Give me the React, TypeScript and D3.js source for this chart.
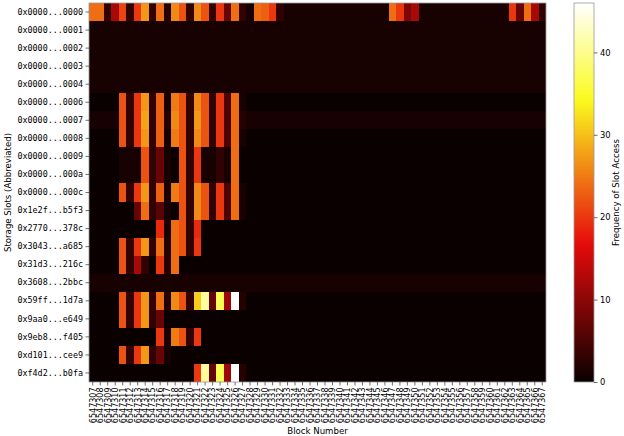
import React, { useRef, useEffect } from 'react';
import * as d3 from 'd3';

const slots = [
  "0x0000...0000", "0x0000...0001", "0x0000...0002", "0x0000...0003", "0x0000...0004",
  "0x0000...0006", "0x0000...0007", "0x0000...0008", "0x0000...0009", "0x0000...000a",
  "0x0000...000c", "0x1e2f...b5f3", "0x2770...378c", "0x3043...a685", "0x31d3...216c",
  "0x3608...2bbc", "0x59ff...1d7a", "0x9aa0...e649", "0x9eb8...f405", "0xd101...cee9",
  "0xf4d2...b0fa"
];

const blocks = [
  "6547307", "6547308", "6547309", "6547310", "6547311", "6547312", "6547313", "6547314",
  "6547315", "6547316", "6547317", "6547318", "6547319", "6547320", "6547321", "6547322",
  "6547323", "6547324", "6547325", "6547326", "6547327", "6547328", "6547329", "6547330",
  "6547331", "6547332", "6547333", "6547334", "6547335", "6547336", "6547337", "6547338",
  "6547339", "6547340", "6547341", "6547342", "6547343", "6547344", "6547345", "6547346",
  "6547347", "6547348", "6547349", "6547350", "6547351", "6547352", "6547353", "6547354",
  "6547355", "6547356", "6547357", "6547358", "6547359", "6547360", "6547361", "6547362",
  "6547363", "6547364", "6547365", "6547366", "6547367"
];

// access counts for the first 26 blocks (6547307..6547332), one row per slot
const earlyCounts = [
  [24, 24, 3, 12, 21, 3, 20, 27, 3, 24, 2, 26, 22, 3, 26, 22, 3, 20, 7, 24, 3, 1, 24, 23, 20, 3],
  [1, 1, 1, 1, 1, 1, 1, 1, 1, 1, 1, 1, 1, 1, 1, 1, 1, 1, 1, 1, 1, 1, 1, 1, 1, 1],
  [1, 1, 1, 1, 1, 1, 1, 1, 1, 1, 1, 1, 1, 1, 1, 1, 1, 1, 1, 1, 1, 1, 1, 1, 1, 1],
  [1, 1, 1, 1, 1, 1, 1, 1, 1, 1, 1, 1, 1, 1, 1, 1, 1, 1, 1, 1, 1, 1, 1, 1, 1, 1],
  [1, 1, 1, 1, 1, 1, 1, 1, 1, 1, 1, 1, 1, 1, 1, 1, 1, 1, 1, 1, 1, 1, 1, 1, 1, 1],
  [0, 0, 0, 0, 22, 3, 20, 27, 3, 23, 1, 25, 22, 3, 26, 22, 3, 20, 5, 24, 1, 0, 0, 0, 0, 0],
  [1, 1, 1, 1, 22, 3, 20, 28, 3, 23, 2, 26, 22, 3, 27, 22, 3, 20, 5, 24, 2, 1, 1, 1, 1, 1],
  [0, 0, 0, 0, 22, 3, 20, 27, 3, 23, 1, 25, 22, 3, 26, 22, 3, 20, 5, 24, 1, 0, 0, 0, 0, 0],
  [0, 0, 0, 0, 1, 1, 1, 22, 3, 7, 1, 0, 22, 3, 20, 1, 1, 3, 1, 24, 0, 0, 0, 0, 0, 0],
  [0, 0, 0, 0, 1, 1, 1, 22, 3, 7, 1, 0, 22, 3, 20, 1, 1, 3, 1, 24, 0, 0, 0, 0, 0, 0],
  [0, 0, 0, 0, 22, 3, 20, 27, 3, 23, 1, 25, 22, 3, 26, 22, 3, 20, 5, 24, 1, 0, 0, 0, 0, 0],
  [0, 0, 0, 0, 0, 0, 7, 24, 3, 6, 1, 0, 22, 3, 26, 22, 3, 20, 5, 24, 1, 0, 0, 0, 0, 0],
  [0, 0, 0, 0, 0, 0, 0, 0, 0, 19, 1, 24, 22, 3, 19, 0, 0, 0, 0, 0, 0, 0, 0, 0, 0, 0],
  [0, 0, 0, 0, 22, 3, 20, 27, 3, 24, 2, 24, 22, 3, 20, 0, 0, 0, 0, 0, 0, 0, 0, 0, 0, 0],
  [0, 0, 0, 0, 22, 3, 12, 3, 0, 20, 2, 24, 0, 0, 0, 0, 0, 0, 0, 0, 0, 0, 0, 0, 0, 0],
  [1, 1, 1, 1, 1, 1, 1, 1, 1, 1, 1, 1, 1, 1, 1, 1, 1, 1, 1, 1, 1, 1, 1, 1, 1, 1],
  [0, 0, 0, 0, 22, 3, 20, 27, 3, 24, 2, 26, 22, 3, 31, 41, 7, 37, 11, 46, 2, 0, 0, 0, 0, 0],
  [0, 0, 0, 0, 22, 3, 20, 27, 3, 7, 0, 0, 0, 0, 0, 0, 0, 0, 0, 0, 0, 0, 0, 0, 0, 0],
  [0, 0, 0, 0, 0, 0, 0, 0, 0, 20, 1, 25, 22, 3, 20, 0, 0, 0, 0, 0, 0, 0, 0, 0, 0, 0],
  [0, 0, 0, 0, 22, 3, 20, 27, 3, 7, 1, 0, 0, 0, 0, 0, 0, 0, 0, 0, 0, 0, 0, 0, 0, 0],
  [0, 0, 0, 0, 0, 0, 0, 0, 0, 0, 0, 0, 0, 0, 20, 41, 7, 37, 11, 46, 2, 0, 0, 0, 0, 0]
];

// remaining blocks (6547333..6547367): every slot sits at its idle level, except the first one
const idleCounts = [1, 1, 1, 1, 1, 0, 1, 0, 0, 0, 0, 0, 0, 0, 0, 1, 0, 0, 0, 0, 0];
const firstSlotLate = [
  1, 1, 1, 1, 1, 1, 1, 1, 1, 1, 1, 1, 1, 1, 24, 20, 9, 12,
  1, 1, 1, 1, 1, 1, 1, 1, 1, 1, 1, 1, 20, 7, 24, 12, 3
];

const cbarTicks = [0, 10, 20, 30, 40];
const vmax = 46;

// matplotlib "hot", slightly softened to match the rendered picture
function hot(t: number) {
  t = Math.max(0, Math.min(1, t));
  const r = t < 0.365079 ? 0.0416 + (1 - 0.0416) * t / 0.365079 : 1;
  const g = t < 0.365079 ? 0 : t < 0.746032 ? (t - 0.365079) / (0.746032 - 0.365079) : 1;
  const b = t < 0.746032 ? 0 : (t - 0.746032) / (1 - 0.746032);
  const lum = 0.299 * r + 0.587 * g + 0.114 * b;
  const k = 0.14;
  const mix = (c: number) => (c * (1 - k) + lum * k) * 255;
  return d3.rgb(mix(r), mix(g), mix(b)).formatHex();
}

export default function App() {
  const svgRef = useRef<SVGSVGElement>(null);

  useEffect(() => {
    const svg = d3.select(svgRef.current);
    svg.selectAll("*").remove();

    const width = 624;
    const height = 436;
    const margin = { top: 3, right: 78, bottom: 54, left: 89 };

    const cells: { slot: string; block: string; v: number }[] = [];
    slots.forEach((s, i) => {
      blocks.forEach((b, j) => {
        const v = j < earlyCounts[i].length
          ? earlyCounts[i][j]
          : (i === 0 ? firstSlotLate[j - earlyCounts[i].length] : idleCounts[i]);
        cells.push({ slot: s, block: b, v });
      });
    });

    const x = d3.scaleBand().domain(blocks).range([margin.left, width - margin.right]).padding(0);
    const y = d3.scaleBand().domain(slots).range([margin.top, height - margin.bottom]).padding(0);
    const color = (v: number) => hot(v / vmax);

    svg.append("g")
      .selectAll("rect")
      .data(cells)
      .join("rect")
      .attr("x", d => x(d.block)!)
      .attr("y", d => y(d.slot)!)
      .attr("width", x.bandwidth() + 0.3)
      .attr("height", y.bandwidth() + 0.3)
      .attr("fill", d => color(d.v))
      .attr("shape-rendering", "crispEdges");

    // frame
    svg.append("rect")
      .attr("x", margin.left)
      .attr("y", margin.top)
      .attr("width", width - margin.right - margin.left)
      .attr("height", height - margin.bottom - margin.top)
      .attr("fill", "none")
      .attr("stroke", "#999")
      .attr("stroke-width", 0.8);

    const yAxis = svg.append("g")
      .attr("transform", `translate(${margin.left},0)`)
      .call(d3.axisLeft(y).tickSize(3.5).tickPadding(2.5).tickSizeOuter(0));
    yAxis.select(".domain").remove();
    yAxis.selectAll("line").attr("stroke", "#333").attr("stroke-width", 0.7);
    yAxis.selectAll("text")
      .style("font-family", "'DejaVu Sans Mono', monospace")
      .style("font-size", "8.4px")
      .attr("fill", "#000");

    const xAxis = svg.append("g")
      .attr("transform", `translate(0,${height - margin.bottom})`)
      .call(d3.axisBottom(x).tickSize(3.5).tickPadding(2).tickSizeOuter(0));
    xAxis.select(".domain").remove();
    xAxis.selectAll("line").attr("stroke", "#333").attr("stroke-width", 0.7);
    xAxis.selectAll("text")
      .attr("transform", "rotate(-90)")
      .attr("x", -5.5)
      .attr("y", 0)
      .attr("dy", "0.35em")
      .style("text-anchor", "end")
      .style("font-family", "'DejaVu Sans', sans-serif")
      .style("font-size", "8px")
      .attr("fill", "#000");

    svg.append("text")
      .attr("x", (margin.left + width - margin.right) / 2)
      .attr("y", 434)
      .attr("text-anchor", "middle")
      .style("font-family", "'DejaVu Sans', sans-serif")
      .style("font-size", "8.6px")
      .text("Block Number");

    svg.append("text")
      .attr("transform", `translate(11,${(margin.top + height - margin.bottom) / 2}) rotate(-90)`)
      .attr("text-anchor", "middle")
      .style("font-family", "'DejaVu Sans', sans-serif")
      .style("font-size", "8.6px")
      .text("Storage Slots (Abbreviated)");

    // colorbar
    const cb = { x0: 574, x1: 594, top: margin.top, bottom: height - margin.bottom };
    const grad = svg.append("defs").append("linearGradient")
      .attr("id", "hotGrad")
      .attr("x1", 0).attr("y1", 1).attr("x2", 0).attr("y2", 0);
    d3.range(0, 1.0001, 0.02).forEach(t => {
      grad.append("stop").attr("offset", t).attr("stop-color", hot(t));
    });
    svg.append("rect")
      .attr("x", cb.x0)
      .attr("y", cb.top)
      .attr("width", cb.x1 - cb.x0)
      .attr("height", cb.bottom - cb.top)
      .attr("fill", "url(#hotGrad)")
      .attr("stroke", "#999")
      .attr("stroke-width", 0.8);

    const cScale = d3.scaleLinear().domain([0, vmax]).range([cb.bottom, cb.top]);
    const cAxis = svg.append("g")
      .attr("transform", `translate(${cb.x1},0)`)
      .call(d3.axisRight(cScale).tickValues(cbarTicks).tickSize(3.5).tickPadding(2.5));
    cAxis.select(".domain").remove();
    cAxis.selectAll("line").attr("stroke", "#333").attr("stroke-width", 0.7);
    cAxis.selectAll("text")
      .style("font-family", "'DejaVu Sans', sans-serif")
      .style("font-size", "8.4px")
      .attr("fill", "#000");

    svg.append("text")
      .attr("transform", `translate(619,${(cb.top + cb.bottom) / 2}) rotate(-90)`)
      .attr("text-anchor", "middle")
      .style("font-family", "'DejaVu Sans', sans-serif")
      .style("font-size", "8.6px")
      .text("Frequency of Slot Access");
  }, []);

  return (
    <div style={{ position: "absolute", left: 0, top: 0, width: 624, height: 436, background: "#fff" }}>
      <svg ref={svgRef} width={624} height={436} style={{ display: "block" }} />
    </div>
  );
}
